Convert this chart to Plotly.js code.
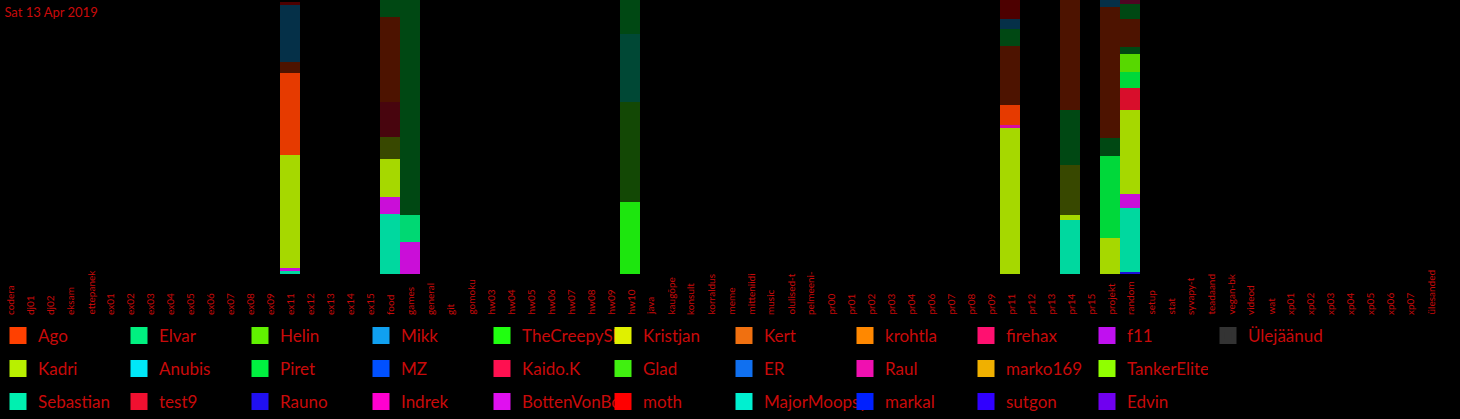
<!DOCTYPE html>
<html><head><meta charset="utf-8">
<script src="https://cdn.plot.ly/plotly-3.0.1.min.js"></script>
<style>html,body{margin:0;padding:0;background:#000;}#chart{width:1460px;height:419px;}</style>
</head><body><div id="chart"></div>
<script>
const categories = ["codera","dj01","dj02","eksam","ettepanek","ex01","ex02","ex03","ex04","ex05","ex06","ex07","ex08","ex09","ex11","ex12","ex13","ex14","ex15","food","games","general","git","gomoku","hw03","hw04","hw05","hw06","hw07","hw08","hw09","hw10","java","kaugõpe","konsult","korraldus","meme","mitteniidi","music","olulised-t","pelmeeni-","pr00","pr01","pr02","pr03","pr04","pr06","pr07","pr08","pr09","pr11","pr12","pr13","pr14","pr15","projekt","random","setup","stat","syvapy-t","teadaand","vegan-bk","videod","wat","xp01","xp02","xp03","xp04","xp05","xp06","xp07","ülesanded"];

const users = ["Ago","Kadri","Sebastian","Elvar","Anubis","test9","Helin","Piret","Rauno","Mikk","MZ","Indrek","TheCreepySh","Kaido.K","BottenVonBot","Kristjan","Glad","moth","Kert","ER","MajorMoopsy","krohtla","Raul","markal","firehax","marko169","sutgon","f11","TankerElite","Edvin","Ülejäänud"];
const userColors = ["#ff4000","#b8f000","#00f0b0","#00f080","#00e8f8","#f01030","#60f000","#00f040","#2010f0","#10a0f0","#0050ff","#ff00d0","#20ff10","#ff1050","#e010f0","#e0f000","#40f010","#ff0000","#f07010","#1070f0","#00f0d0","#ff8800","#f010b0","#0020ff","#ff1070","#f0b000","#3000ff","#c010f0","#90ff00","#7000f0","#333333"];

// highlighted (bright) segments
const raunoX = ["random"], raunoY = [2];
const creepyX = ["hw10"], creepyY = [72];
const sebastianX = ["ex11","food","pr14","random"], sebastianY = [3,60,54,64];
const bottenX = ["ex11","food","games","random"], bottenY = [3,17,32,14];
const elvarX = ["games"], elvarY = [27];
const kadriX = ["ex11","food","pr11","pr14","projekt","random"], kadriY = [113,38,146,5,36,84];
const raulX = ["pr11"], raulY = [3];
const agoX = ["ex11","pr11"], agoY = [82,20];
const test9X = ["random"], test9Y = [22];
const piretX = ["projekt","random"], piretY = [82,16];
const helinX = ["random"], helinY = [18];

// dimmed segments
const gladDimX = ["hw10"], gladDimY = [100];
const kadriDimX = ["food","pr14"], kadriDimY = [22,50];
const piretDimX = ["games","pr14","projekt","random"], piretDimY = [215,55,18,7];
const test9DimX = ["food"], test9DimY = [35];
const agoDimX = ["ex11","food","pr11","pr14","projekt","random"], agoDimY = [11,85,59,110,131,28];
const sebastianDimX = ["hw10"], sebastianDimY = [68];
const piretDim2X = ["food","hw10","pr11","random"], piretDim2Y = [17,34,17,15];
const mikkDimX = ["ex11","pr11","projekt"], mikkDimY = [57,10,7];
const mothDimX = ["ex11","pr11"], mothDimY = [3,19];
const firehaxDimX = ["random"], firehaxDimY = [4];

const stackOrder = [
  ["Rauno", raunoX, raunoY, false],
  ["TheCreepySh", creepyX, creepyY, false],
  ["Sebastian", sebastianX, sebastianY, false],
  ["BottenVonBot", bottenX, bottenY, false],
  ["Elvar", elvarX, elvarY, false],
  ["Kadri", kadriX, kadriY, false],
  ["Raul", raulX, raulY, false],
  ["Ago", agoX, agoY, false],
  ["test9", test9X, test9Y, false],
  ["Piret", piretX, piretY, false],
  ["Helin", helinX, helinY, false],
  ["Glad", gladDimX, gladDimY, true],
  ["Kadri", kadriDimX, kadriDimY, true],
  ["Piret", piretDimX, piretDimY, true],
  ["test9", test9DimX, test9DimY, true],
  ["Ago", agoDimX, agoDimY, true],
  ["Sebastian", sebastianDimX, sebastianDimY, true],
  ["Piret", piretDim2X, piretDim2Y, true],
  ["Mikk", mikkDimX, mikkDimY, true],
  ["moth", mothDimX, mothDimY, true],
  ["firehax", firehaxDimX, firehaxDimY, true]
];

const FONT = "Lato, Roboto, sans-serif";
const TXT = "#c80a0a";
const legendIds = ["legend","legend2","legend3"];

const traces = [];
stackOrder.forEach(([name, xs, ys, dim]) => {
  const col = userColors[users.indexOf(name)];
  traces.push({type:"bar", name:name, x:xs, y:ys, showlegend:false, hoverinfo:"x+y+name",
    marker:{color:col, opacity: dim ? 0.3 : 0.9, line:{width:0}}});
});
// legend entries (column-major order, 3 rows)
users.forEach((name, i) => {
  traces.push({type:"bar", name:name, x:[categories[0]], y:[null], showlegend:true,
    legend:legendIds[i % 3], legendrank:Math.floor(i / 3) + 1, hoverinfo:"skip",
    marker:{color:userColors[i], line:{width:5, color:userColors[i]}}});
});

function legendCfg(ypx){
  return {orientation:"h", x:-2/1440, xanchor:"left", y:(274-ypx)/274, yanchor:"middle",
    entrywidth:76, entrywidthmode:"pixels", traceorder:"normal",
    bgcolor:"rgba(0,0,0,0)", borderwidth:0, font:{family:FONT, size:17, color:TXT}};
}

const annotations = categories.map((c, i) => ({
  x:i, xref:"x", y:(274-316)/274, yref:"paper", yanchor:"bottom", xanchor:"center",
  textangle:-90, text:c, showarrow:false, borderpad:0,
  font:{family:FONT, size:10, color:TXT}
}));

const layout = {
  width:1460, height:419,
  paper_bgcolor:"#000", plot_bgcolor:"#000",
  margin:{l:0, r:20, t:0, b:145, autoexpand:false},
  barmode:"stack", bargap:0,
  font:{family:FONT, color:TXT},
  title:{text:"Sat 13 Apr 2019", x:0.003, xanchor:"left", y:1-12/419, yanchor:"middle",
    font:{family:FONT, size:13, color:TXT}},
  xaxis:{type:"category", categoryorder:"array", categoryarray:categories, range:[-0.5, categories.length-0.5],
    showticklabels:false, showgrid:false, zeroline:false, showline:false, ticks:""},
  yaxis:{range:[0,274], visible:false},
  legend:legendCfg(336), legend2:legendCfg(369), legend3:legendCfg(402),
  annotations:annotations,
  showlegend:true
};
Plotly.newPlot("chart", traces, layout, {displayModeBar:false});
</script></body></html>
